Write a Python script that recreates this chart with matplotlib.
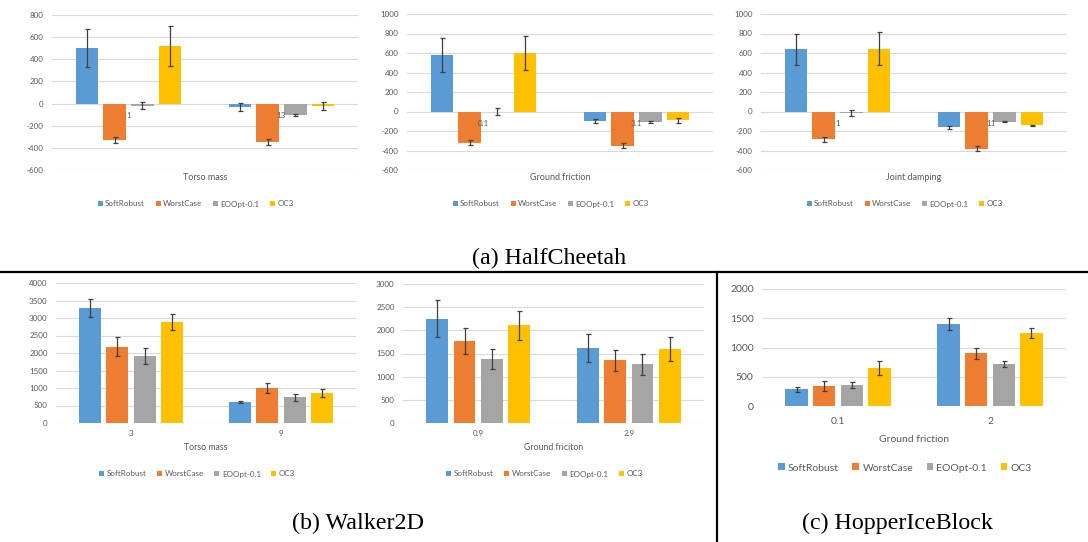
import numpy as np
import matplotlib.pyplot as plt
from matplotlib.lines import Line2D

plt.rcParams['font.family'] = ['Lato', 'DejaVu Sans']
plt.rcParams['axes.unicode_minus'] = False

methods = ['SoftRobust', 'WorstCase', 'EOOpt-0.1', 'OC3']
colors = ['#5B9BD5', '#ED7D31', '#A5A5A5', '#FFC000']

# (a) HalfCheetah -- rows are methods, columns are categories
hc_mass_cats = ['1', '13']
hc_mass_mean = [[505, -30], [-331, -343], [-18, -102], [523, -21]]
hc_mass_err = [[172, 38], [25, 27], [30, 10], [180, 35]]

hc_fric_cats = ['0.1', '3.1']
hc_fric_mean = [[579, -99], [-318, -349], [-3, -108], [600, -92]]
hc_fric_err = [[170, 22], [25, 24], [34, 6], [175, 25]]

hc_damp_cats = ['1', '11']
hc_damp_mean = [[636, -161], [-284, -380], [-12, -103], [646, -140]]
hc_damp_err = [[164, 15], [26, 26], [32, 7], [166, 5]]

# (b) Walker2D
wk_mass_cats = ['3', '9']
wk_mass_mean = [[3284, 611], [2177, 993], [1909, 735], [2883, 859]]
wk_mass_err = [[253, 30], [267, 143], [234, 95], [225, 105]]

wk_fric_cats = ['0.9', '2.9']
wk_fric_mean = [[2254, 1615], [1773, 1357], [1378, 1263], [2110, 1600]]
wk_fric_err = [[405, 300], [280, 227], [222, 233], [313, 262]]

# (c) HopperIceBlock
hp_fric_cats = ['0.1', '2']
hp_fric_mean = [[284, 1398], [341, 898], [358, 716], [653, 1244]]
hp_fric_err = [[43, 105], [80, 102], [45, 57], [122, 88]]

W, H = 1088, 542
fig = plt.figure(figsize=(W / 100, H / 100), dpi=100)


def panel(box, cats, means, errs, ylim, ystep, xlabel, fs, fs_title,
          at_zero, title_dy, leg_dy, tick_dy):
    # box given in pixels: left, top, right, bottom
    l, t, r, b = box
    ax = fig.add_axes([l / W, 1 - b / H, (r - l) / W, (b - t) / H])
    x = np.arange(len(cats))
    for i, m in enumerate(methods):
        ax.bar(x + (i - 1.5) * 0.182, means[i], 0.145, color=colors[i],
               yerr=errs[i], label=m, zorder=3,
               error_kw=dict(ecolor='#3f3f3f', elinewidth=0.9, capsize=1.8,
                             capthick=0.9, zorder=4))
    ax.set_xlim(-0.5, len(cats) - 0.5)
    ax.set_ylim(*ylim)
    ax.set_yticks(np.arange(ylim[0], ylim[1] + 1, ystep))
    ax.grid(axis='y', color='#D9D9D9', lw=0.8, zorder=0)
    for s in ax.spines.values():
        s.set_visible(False)
    ax.tick_params(axis='y', length=0, pad=6, labelsize=fs, labelcolor='#595959')
    ax.set_xticks([])
    ph = b - t
    for xi, c in zip(x, cats):
        if at_zero:
            ax.annotate(c, (xi, 0), xytext=(0, -tick_dy * 0.72),
                        textcoords='offset points', ha='center', va='center',
                        fontsize=fs, color='#595959')
        else:
            ax.text(xi, -tick_dy / ph, c, transform=ax.get_xaxis_transform(),
                    ha='center', va='center', fontsize=fs, color='#595959')
    ax.text(0.5, -title_dy / ph, xlabel, transform=ax.transAxes,
            ha='center', va='center', fontsize=fs_title, color='#595959')
    leg = ax.legend(loc='center', bbox_to_anchor=(0.47, -leg_dy / ph), ncol=4,
                    frameon=False, fontsize=fs, handlelength=0.65,
                    handleheight=0.65, handletextpad=0.3, columnspacing=1.3)
    for txt in leg.get_texts():
        txt.set_color('#595959')
    return ax


panel((52, 15, 358, 170), hc_mass_cats, hc_mass_mean, hc_mass_err, (-600, 800), 200,
      'Torso mass', 5.8, 6.5, True, 8, 34, 12)
panel((407, 14, 713, 170), hc_fric_cats, hc_fric_mean, hc_fric_err, (-600, 1000), 200,
      'Ground friction', 5.8, 6.5, True, 8, 34, 12)
panel((761, 14, 1067, 170), hc_damp_cats, hc_damp_mean, hc_damp_err, (-600, 1000), 200,
      'Joint damping', 5.8, 6.5, True, 8, 34, 12)

panel((56, 283, 356, 423), wk_mass_cats, wk_mass_mean, wk_mass_err, (0, 4000), 500,
      'Torso mass', 5.8, 6.3, False, 25, 51, 11)
panel((403, 284, 704, 423), wk_fric_cats, wk_fric_mean, wk_fric_err, (0, 3000), 500,
      'Ground friciton', 5.8, 6.3, False, 25, 51, 11)
panel((762, 289, 1066, 406), hp_fric_cats, hp_fric_mean, hp_fric_err, (0, 2000), 500,
      'Ground friction', 7.5, 7.5, False, 33, 62, 16)

# captions
cap = dict(family='Liberation Serif', fontsize=17.3, ha='center', va='center')
fig.text(549 / W, 1 - 258 / H, '(a) HalfCheetah', **cap)
fig.text(358 / W, 1 - 523 / H, '(b) Walker2D', **cap)
fig.text(898 / W, 1 - 523 / H, '(c) HopperIceBlock', **cap)

# separator lines
fig.add_artist(Line2D([0, 1], [1 - 272 / H] * 2, color='black', lw=1.6))
fig.add_artist(Line2D([717 / W] * 2, [0, 1 - 272 / H], color='black', lw=1.6))

fig.savefig('out.png', dpi=100)
